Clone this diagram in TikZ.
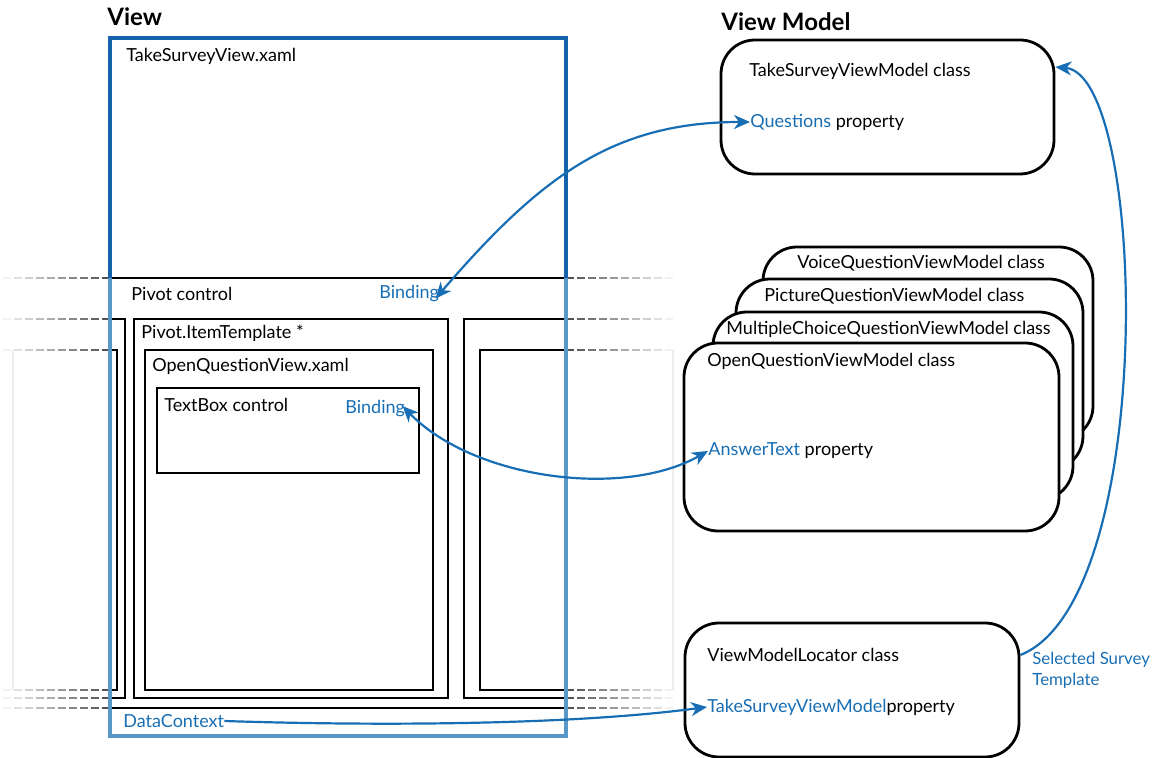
\documentclass[tikz,border=0pt]{standalone}
\usepackage{fontspec}
\setmainfont{Lato}
\usepackage{tikz}
\usetikzlibrary{arrows.meta}
\usetikzlibrary{positioning}

\definecolor{linkblue}{RGB}{24,110,180}
\definecolor{viewblue}{RGB}{20,98,168}
\definecolor{viewlight}{RGB}{88,152,200}

\begin{document}
\begin{tikzpicture}[x=0.5pt, y=0.5pt,
    txt/.style={anchor=west, inner sep=0pt, font=\fontsize{9}{10.5}\selectfont},
    heading/.style={anchor=west, inner sep=0pt, font=\fontsize{12}{14}\selectfont\bfseries},
    box/.style={line width=1.4pt},
    vmbox/.style={draw, line width=1.4pt, rounded corners=17pt, fill=white, inner sep=0pt},
    link/.style={draw=linkblue, line width=1.1pt, -{Stealth[length=8pt, width=7pt, inset=2.5pt]}},
    twolink/.style={draw=linkblue, line width=1.1pt, {Stealth[length=8pt, width=7pt, inset=2.5pt]}-{Stealth[length=8pt, width=7pt, inset=2.5pt]}},
  ]
  \useasboundingbox (0,0) rectangle (1157,-758);

  % pivot and its items
  \draw[box] (110,-278) -- (566,-278);
  \draw[box] (110,-708) -- (566,-708);
  \draw[box] (110,-319) -- (125,-319) -- (125,-698) -- (110,-698);
  \draw[box] (110,-350) -- (117,-350) -- (117,-690) -- (110,-690);
  \draw[box] (134,-319) rectangle (448,-698);
  \draw[box] (145,-350) rectangle (433,-690);
  \draw[box] (157,-388) rectangle (419,-473);
  \draw[box] (566,-319) -- (464,-319) -- (464,-698) -- (566,-698);
  \draw[box] (566,-350) -- (480,-350) -- (480,-690) -- (566,-690);

  % fading edges
  \foreach \yy in {278,319,350,690,698,708}{
    \foreach \i in {0,...,9}{
      \pgfmathtruncatemacro\pct{68-7*\i}
      \draw[line width=1.3pt, black!\pct] (110-11*\i,-\yy) -- ++(-8,0);
      \draw[line width=1.3pt, black!\pct] (566+11*\i,-\yy) -- ++(8,0);
    }
  }
  \draw[line width=0.8pt, black!7] (13,-350) -- (13,-690);
  \draw[line width=0.8pt, black!7] (673,-350) -- (673,-690);

  % view frame
  \draw[line width=1.7pt, viewlight] (110,-278) -- (110,-736) -- (566,-736) -- (566,-278);
  \draw[line width=1.7pt, viewblue] (110,-278) -- (110,-38) -- (566,-38) -- (566,-278);

  \node[heading] (viewttl) at (107,-17) {View};
  \node[heading] (vmttl) at (721,-22) {View Model};

  \node[txt] (tsvxaml) at (126,-56) {TakeSurveyView.xaml};
  \node[txt] (pivotlbl) at (131,-294) {Pivot control};
  \node[txt, text=linkblue] (bindpivot) at (379,-294) {Binding};
  \node[txt] (itemtpl) at (141,-333) {Pivot.ItemTemplate *};
  \node[txt] (oqxaml) at (152,-366) {OpenQuestionView.xaml};
  \node[txt] (textboxlbl) at (164,-405) {TextBox control};
  \node[txt, text=linkblue] (bindtext) at (345,-409) {Binding};
  \node[txt, text=linkblue] (datactx) at (123,-721) {DataContext};

  % view model side
  \node[vmbox, minimum width=166.5pt, minimum height=67pt] (tsvm) at (887.5,-107) {};
  \node[txt] (tsvmcls) at (749,-71) {TakeSurveyViewModel class};
  \node[txt] (questions) at (750,-122) {\textcolor{linkblue}{Questions} property};

  \node[vmbox, minimum width=165pt, minimum height=96.5pt] (voice) at (928,-343.5) {};
  \node[vmbox, minimum width=173.5pt, minimum height=95.5pt] (picture) at (909.5,-374.5) {};
  \node[vmbox, minimum width=180pt, minimum height=94pt] (multi) at (893,-406) {};
  \node[vmbox, minimum width=187.5pt, minimum height=94pt] (open) at (871.5,-437) {};
  \node[txt] (voicecls) at (797,-263) {VoiceQuestionViewModel class};
  \node[txt] (picturecls) at (764,-296) {PictureQuestionViewModel class};
  \node[txt] (multicls) at (726,-329) {MultipleChoiceQuestionViewModel class};
  \node[txt] (opencls) at (707,-361) {OpenQuestionViewModel class};
  \node[txt] (answer) at (708,-451) {\textcolor{linkblue}{AnswerText} property};

  \node[vmbox, minimum width=167pt, minimum height=67pt] (vml) at (852,-690) {};
  \node[txt] (vmlcls) at (707,-655) {ViewModelLocator class};
  \node[txt] (tsvmprop) at (707,-707) {\textcolor{linkblue}{TakeSurveyViewModel}property};
  \node[txt, anchor=north west, align=left, text=linkblue, font=\fontsize{8.4}{10.5}\selectfont] (seltpl) at (1032,-652) {Selected Survey\\Template};

  % bindings
  \draw[twolink, shorten <=-3pt] (bindpivot.east) .. controls +(100,116) and +(-138,0) .. (questions.west);
  \draw[twolink, shorten <=-2pt] (bindtext.east) .. controls +(68,-70) and +(-85,-48) .. (answer.west);
  \draw[link] (datactx.east) .. controls +(120,-4) and +(-150,-20) .. (tsvmprop.west);
  \draw[link] ([yshift=17.5pt]vml.east) .. controls +(138,55) and +(92,-8) .. ([yshift=20pt]tsvm.east);
\end{tikzpicture}
\end{document}
